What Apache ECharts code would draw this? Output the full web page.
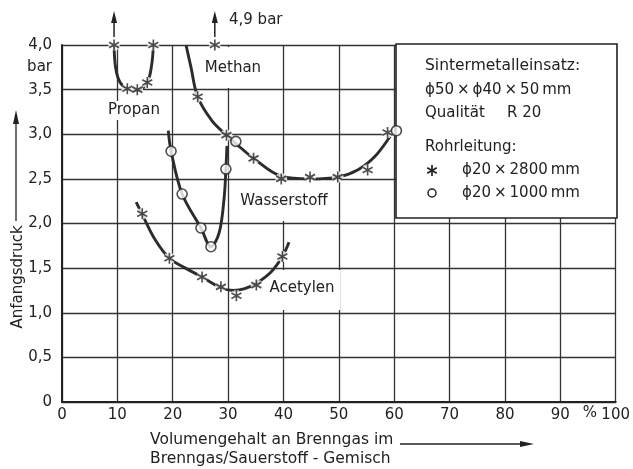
<!DOCTYPE html>
<html><head><meta charset="utf-8">
<script src="https://cdn.jsdelivr.net/npm/echarts@6/dist/echarts.min.js"></script>
<style>html,body{margin:0;padding:0;background:#fff}#c{width:633px;height:469px}</style>
</head><body><div id="c"></div>
<script>
// ---- data ----
const xTickLabels = ['0','10','20','30','40','50','60','70','80','90','100'];
const yTickLabels = ['0','0,5','1,0','1,5','2,0','2,5','3,0','3,5','4,0'];

const propanStars = [[9.4,4.0],[11.8,3.51],[13.6,3.5],[15.4,3.58],[16.5,4.0]];
const propanCurve = [[9.4,4.0],[9.7,3.74],[10.5,3.58],[11.8,3.51],[13.6,3.49],[15.4,3.58],[16.2,3.78],[16.5,4.0]];

const methanStars = [[27.6,4.0],[24.5,3.42],[29.7,2.99],[34.6,2.73],[39.6,2.5],[44.8,2.52],[49.8,2.52],[55.2,2.6],[58.8,3.02]];
const methanCircles = [[31.4,2.92],[60.4,3.04]];
const methanCurve = [[22.4,4.0],[23.3,3.75],[24.5,3.42],[27.1,3.15],[29.7,2.99],[31.5,2.89],[34.6,2.73],[39.6,2.53],[44.8,2.5],[49.8,2.52],[53.4,2.6],[56.5,2.75],[59.3,2.98]];

const wasserstoffCircles = [[19.7,2.81],[21.7,2.33],[25.1,1.95],[26.9,1.74],[29.6,2.61]];
const wasserstoffCurve = [[19.2,3.04],[19.7,2.81],[21.7,2.33],[25.1,1.95],[26.9,1.74],[28.4,1.9],[29.3,2.3],[29.6,2.61],[29.8,2.87]];

const acetylenStars = [[14.5,2.11],[19.4,1.61],[25.3,1.4],[28.7,1.29],[31.5,1.19],[35.1,1.31],[39.8,1.63]];
const acetylenCurve = [[13.4,2.24],[14.5,2.1],[16.8,1.82],[19.4,1.61],[22.3,1.5],[25.3,1.4],[28.7,1.28],[31,1.25],[33,1.27],[35.1,1.33],[37.8,1.46],[39.8,1.63],[41,1.79]];

// values beyond the scale (arrows upward from the 4,0 line), x positions
const offScaleX = [9.4, 27.6];
const offScaleLabel = '4,9 bar';

// ---- styling ----
const INK = '#222';
const FONT = 'DejaVu Sans';
const STAR = 'path://M0,-6L0,6M-5.2,-3L5.2,3M-5.2,3L5.2,-3';
const TS = '\u2009';

function curve(data) {
  return {
    type: 'line', data: data, smooth: 0.35, showSymbol: false, symbol: 'none',
    lineStyle: {color: '#2c2c2c', width: 2.9}, z: 2, silent: true, clip: false
  };
}
function stars(data) {
  return [
    {type: 'scatter', data: data, symbol: STAR, symbolSize: [10, 11], z: 3, silent: true, clip: false,
     itemStyle: {color: 'transparent', borderColor: '#fff', borderWidth: 5}},
    {type: 'scatter', data: data, symbol: STAR, symbolSize: [10, 11], z: 4, silent: true, clip: false,
     itemStyle: {color: 'transparent', borderColor: INK, borderWidth: 1.7}}
  ];
}
function circles(data) {
  return {type: 'scatter', data: data, symbol: 'circle', symbolSize: 10, z: 6, silent: true, clip: false,
    itemStyle: {color: '#fff', borderColor: INK, borderWidth: 1.6}};
}

const chart = echarts.init(document.getElementById('c'), null, {renderer: 'canvas'});

const series = [
  curve(propanCurve),
  curve(methanCurve),
  curve(wasserstoffCurve),
  curve(acetylenCurve),
  ...stars(propanStars),
  ...stars(methanStars),
  ...stars(acetylenStars),
  circles(methanCircles),
  circles(wasserstoffCircles)
];

chart.setOption({
  animation: false,
  backgroundColor: '#fff',
  textStyle: {fontFamily: FONT},
  grid: {left: 62, right: 13, top: 45, bottom: 67, containLabel: false},
  xAxis: {
    type: 'value', min: 0, max: 100, interval: 10,
    axisLine: {show: true, lineStyle: {color: INK, width: 2}},
    axisTick: {show: false},
    splitLine: {show: true, lineStyle: {color: '#333', width: 1.3}},
    axisLabel: {color: INK, fontSize: 15, fontFamily: FONT, margin: 6,
      formatter: v => xTickLabels[Math.round(v / 10)]}
  },
  yAxis: {
    type: 'value', min: 0, max: 4, interval: 0.5,
    axisLine: {show: true, lineStyle: {color: INK, width: 2}},
    axisTick: {show: false},
    splitLine: {show: true, lineStyle: {color: '#333', width: 1.3}},
    axisLabel: {color: INK, fontSize: 15, fontFamily: FONT, margin: 10,
      formatter: v => yTickLabels[Math.round(v * 2)]}
  },
  series: series
});

const txt = (t, x, y, opt) => ({
  type: 'text', x: x, y: y, z: 100, silent: true,
  style: Object.assign({text: t, fill: INK, font: '15px "' + FONT + '"', textAlign: 'left', textVerticalAlign: 'middle'}, opt || {})
});
const seg = (x1, y1, x2, y2, w) => ({type: 'line', shape: {x1: x1, y1: y1, x2: x2, y2: y2}, z: 100, silent: true,
  style: {stroke: INK, lineWidth: w || 1.3}});
const whiteRect = (x, y, w, h) => ({type: 'rect', shape: {x: x, y: y, width: w, height: h}, z: 1, silent: true, style: {fill: '#fff'}});

// arrows for off-scale values, positioned through the axes
const arrows = [];
offScaleX.forEach(x => {
  const p = chart.convertToPixel({gridIndex: 0}, [x, 4.0]);
  arrows.push(seg(p[0], p[1] - 8, p[0], p[1] - 26, 1.5));
  arrows.push({type: 'polygon', shape: {points: [[p[0], p[1] - 34], [p[0] - 3, p[1] - 22], [p[0] + 3, p[1] - 22]]},
    z: 100, silent: true, style: {fill: INK}});
});

const graphic = [
  // label backgrounds (hide grid lines behind labels)
  whiteRect(200, 47, 66, 41),
  whiteRect(104, 101, 60, 19),
  whiteRect(232, 181, 104, 40),
  whiteRect(266, 270, 74, 40),
  // legend box
  {type: 'rect', shape: {x: 396, y: 44, width: 221, height: 174}, z: 5, silent: true,
   style: {fill: '#fff', stroke: INK, lineWidth: 1.6}},
  txt('Sintermetalleinsatz:', 425, 66, {font: '15.5px "' + FONT + '"'}),
  txt('ϕ50' + TS + '×' + TS + 'ϕ40' + TS + '×' + TS + '50' + TS + 'mm', 425, 90),
  txt('Qualität', 425, 113),
  txt('R 20', 507, 113),
  txt('Rohrleitung:', 425, 147),
  seg(432, 165, 432, 176, 1.7),
  seg(427.2, 167.8, 436.8, 173.2, 1.7),
  seg(427.2, 173.2, 436.8, 167.8, 1.7),
  txt('ϕ20' + TS + '×' + TS + '2800' + TS + 'mm', 462, 170),
  {type: 'circle', shape: {cx: 432, cy: 193, r: 4}, z: 100, silent: true,
   style: {fill: '#fff', stroke: INK, lineWidth: 1.5}},
  txt('ϕ20' + TS + '×' + TS + '1000' + TS + 'mm', 462, 193),
  // curve labels
  txt('Propan', 134, 110, {textAlign: 'center'}),
  txt('Methan', 233, 68, {textAlign: 'center'}),
  txt('Wasserstoff', 284, 201, {textAlign: 'center'}),
  txt('Acetylen', 302, 288, {textAlign: 'center'}),
  txt(offScaleLabel, 229, 20),
  // axis extras
  txt('bar', 52, 67, {textAlign: 'right'}),
  txt('%', 590, 413, {textAlign: 'center'}),
  txt('Volumengehalt an Brenngas im', 150, 440, {font: '15.5px "' + FONT + '"'}),
  txt('Brenngas/Sauerstoff - Gemisch', 150, 459, {font: '15.5px "' + FONT + '"'}),
  seg(400, 444, 524, 444),
  {type: 'polygon', shape: {points: [[534, 444], [520, 441], [520, 447]]}, z: 100, silent: true, style: {fill: INK}},
  {type: 'text', x: 18, y: 277, rotation: Math.PI / 2, z: 100, silent: true,
   style: {text: 'Anfangsdruck', fill: INK, font: '15px "' + FONT + '"', textAlign: 'center', textVerticalAlign: 'middle'}},
  seg(16, 221, 16, 120),
  {type: 'polygon', shape: {points: [[16, 110], [13, 124], [19, 124]]}, z: 100, silent: true, style: {fill: INK}}
].concat(arrows);

chart.setOption({graphic: graphic});
</script>
</body></html>
